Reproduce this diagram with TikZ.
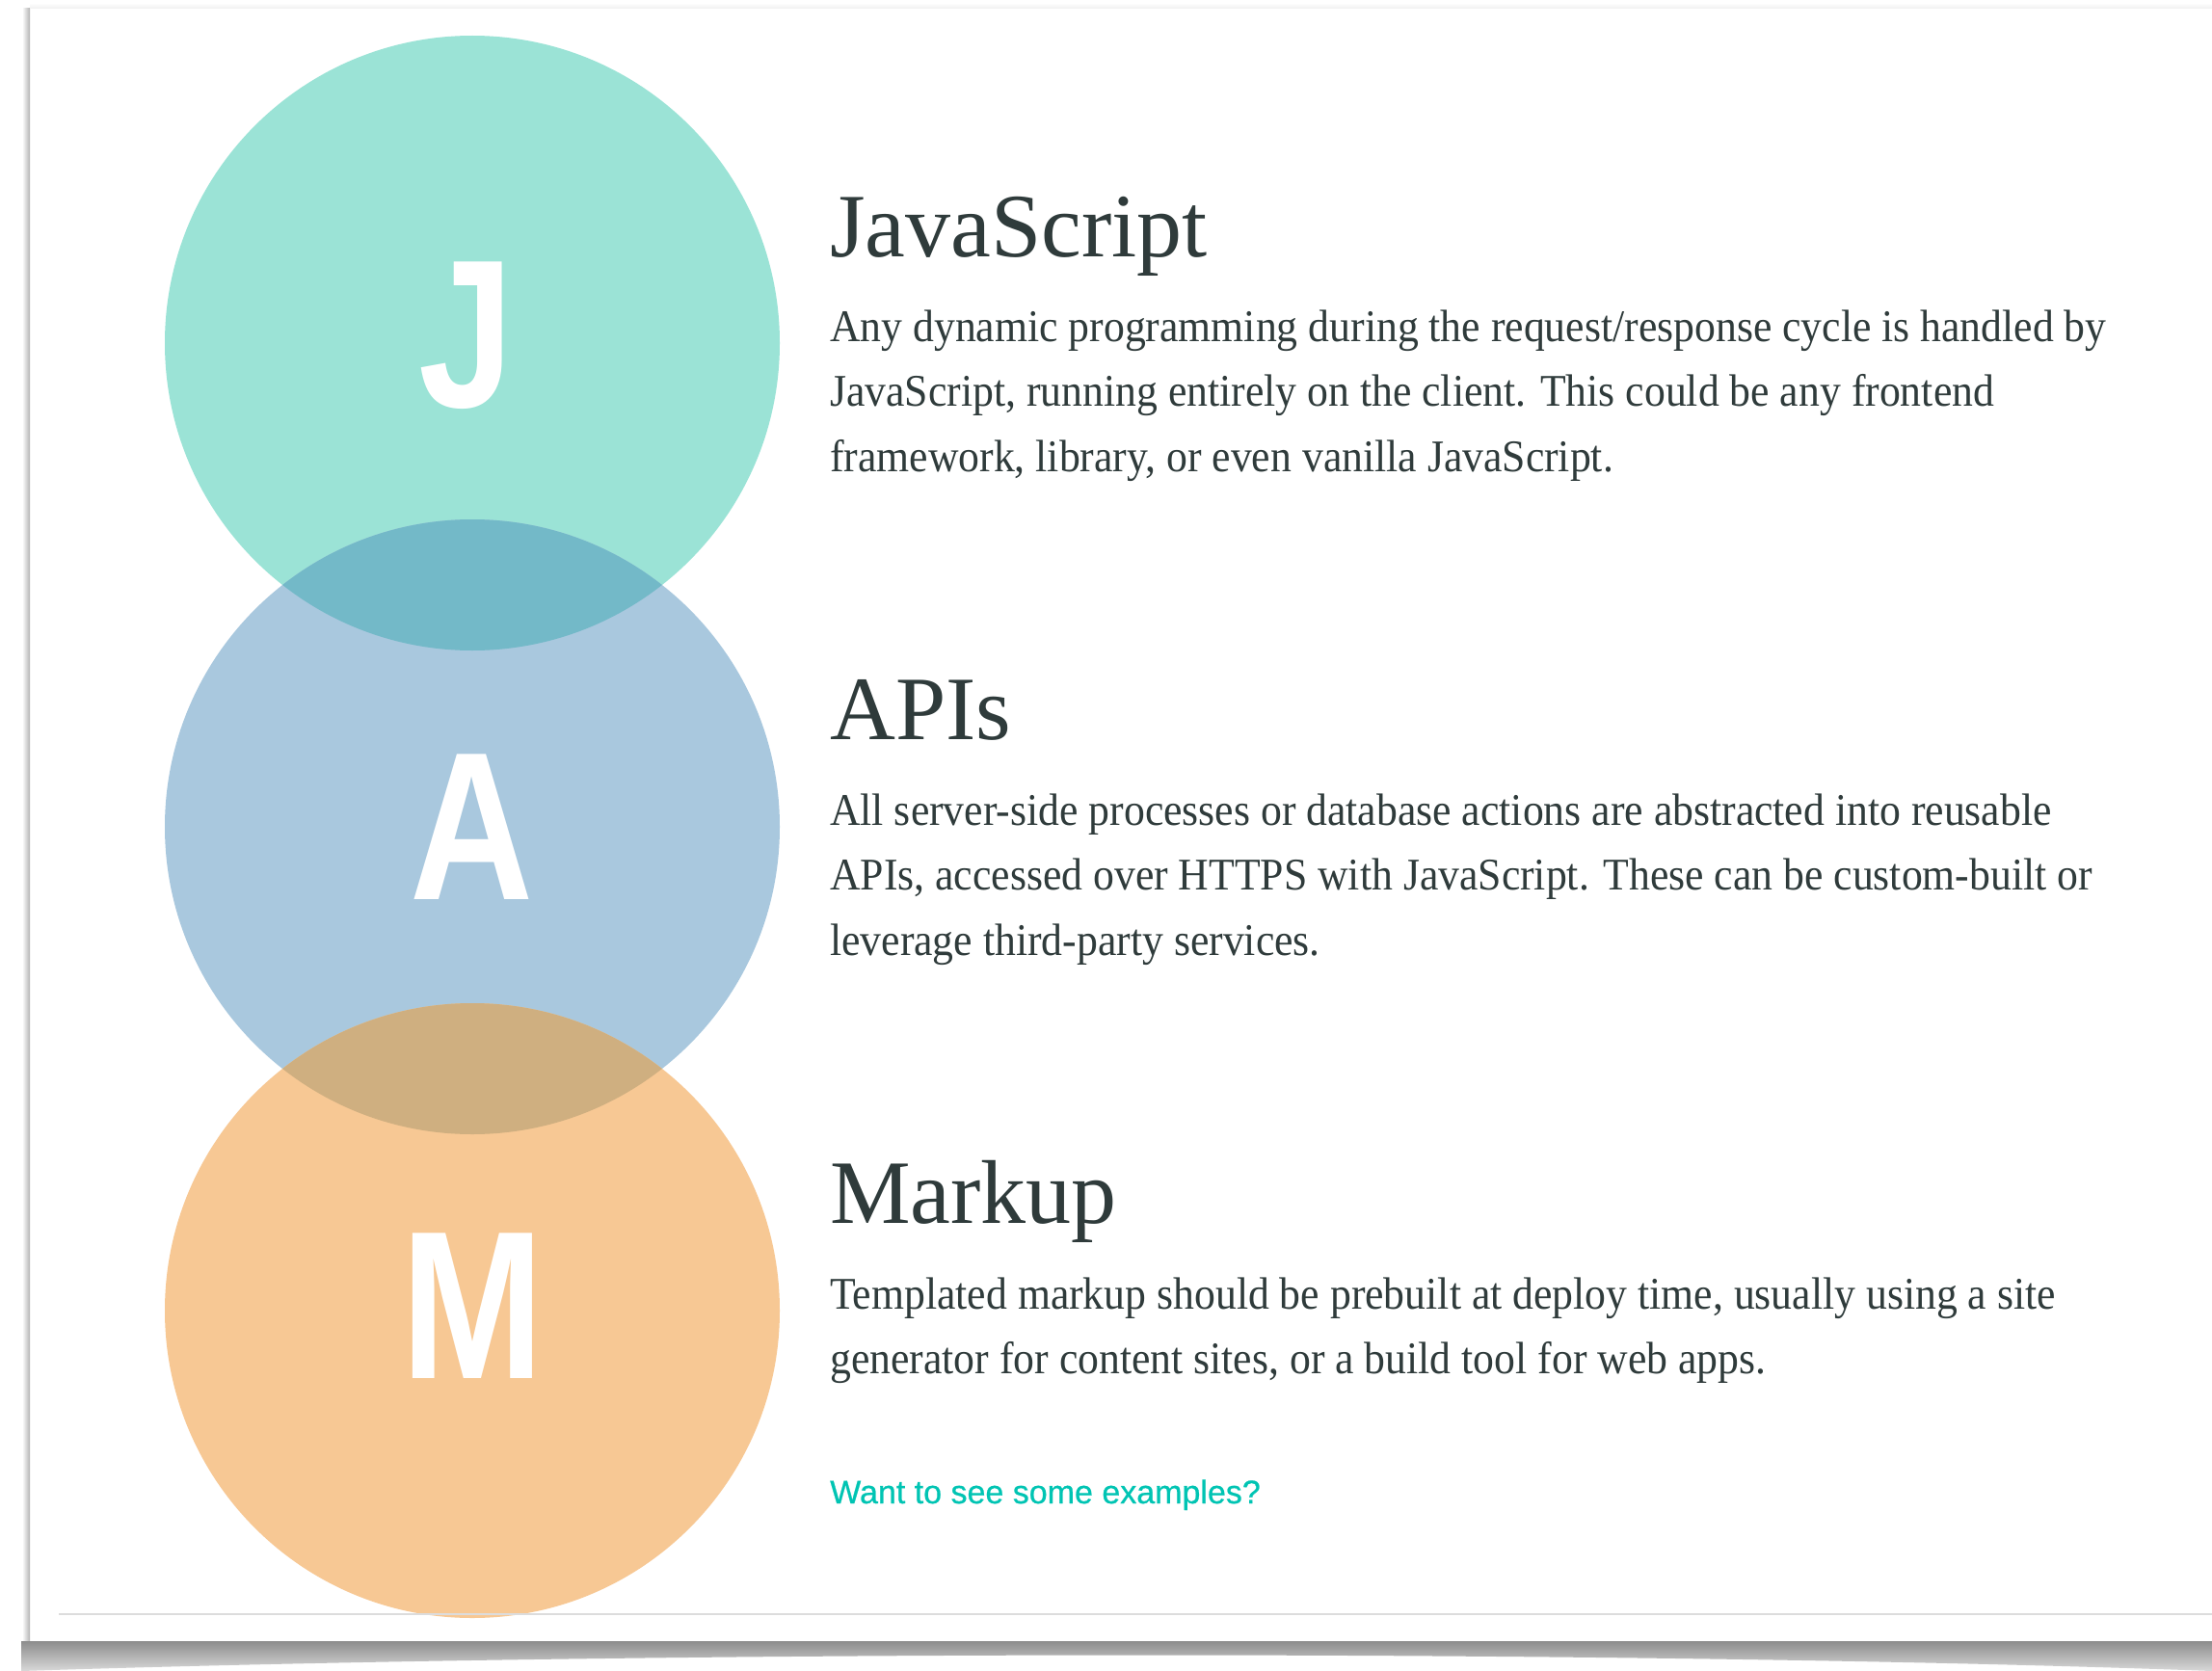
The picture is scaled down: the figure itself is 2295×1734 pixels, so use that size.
\documentclass[tikz,border=0pt]{standalone}
\usepackage{fontspec}
\usepackage{xcolor}
\setmainfont{Liberation Serif}
\newfontfamily\headfont{Liberation Serif}
\newfontfamily\bodyfont[FakeStretch=0.93]{Liberation Serif}
\newfontfamily\letterfont[FakeStretch=0.81]{Liberation Sans}
\newfontfamily\linkfont[FakeBold=0.6]{Liberation Sans}
\definecolor{jscol}{HTML}{9BE3D6}
\definecolor{apicol}{HTML}{A9C8DE}
\definecolor{mkcol}{HTML}{F7C894}
\definecolor{jsapi}{HTML}{73B9C8}
\definecolor{apimk}{HTML}{CFAF80}
\definecolor{inkcol}{HTML}{2F3B3B}
\definecolor{linkcol}{HTML}{00C4B3}
\definecolor{rulecol}{HTML}{DCDCDC}
\tikzset{
    letter-circle/.style = {circle, minimum size=638pt, inner sep=0pt},
    big-letter/.style = {text=white, font=\letterfont\bfseries\fontsize{219}{219}\selectfont, anchor=base, inner sep=0pt},
    heading/.style = {text=inkcol, font=\headfont\fontsize{94}{94}\selectfont, anchor=base west, inner sep=0pt},
    body-line/.style = {text=inkcol, font=\bodyfont\fontsize{47}{47}\selectfont, anchor=base west, inner sep=0pt},
    link/.style = {text=linkcol, font=\linkfont\fontsize{34}{34}\selectfont, anchor=base west, inner sep=0pt},
}
\begin{document}
\begin{tikzpicture}[x=1pt, y=-1pt]
\useasboundingbox (0,0) rectangle (2295,1734);
% page and its shadow
\fill[white] (0,0) rectangle (2295,1734);
\shade[left color=white, right color=black!30] (23,9) rectangle (31,1703);
\shade[top color=white, bottom color=black!6] (31,3) rectangle (2295,9);
\shade[top color=black!45, bottom color=black!15] (22,1703) -- (2295,1703) -- (2295,1734)
    .. controls (1700,1712) and (700,1712) .. (22,1734) -- cycle;

% the three circles
\node[letter-circle, fill=jscol] (jcirc) at (490,356) {};
\node[letter-circle, fill=apicol] (acirc) at (490,858) {};
\node[letter-circle, fill=mkcol] (mcirc) at (490,1360) {};
\begin{scope}
    \clip (jcirc.center) circle (319);
    \fill[jsapi] (acirc.center) circle (319);
\end{scope}
\begin{scope}
    \clip (acirc.center) circle (319);
    \fill[apimk] (mcirc.center) circle (319);
\end{scope}
\node[big-letter] (jlet) at (484,422) {J};
\node[big-letter] (alet) at (490,933) {A};
\node[big-letter] (mlet) at (490,1430) {M};

\draw[rulecol, line width=2pt] (61,1675) -- (2295,1675);

% JavaScript
\node[heading] (jshead) at (861,266) {JavaScript};
\node[body-line] (js1) at (861,354) {Any dynamic programming during the request/response cycle is handled by};
\node[body-line] (js2) at (861,421.5) {JavaScript, running entirely on the client. This could be any frontend};
\node[body-line] (js3) at (861,489) {framework, library, or even vanilla JavaScript.};

% APIs
\node[heading] (apihead) at (861,767) {APIs};
\node[body-line] (api1) at (861,856) {All server-side processes or database actions are abstracted into reusable};
\node[body-line] (api2) at (861,923.5) {APIs, accessed over HTTPS with JavaScript. These can be custom-built or};
\node[body-line] (api3) at (861,991) {leverage third-party services.};

% Markup
\node[heading] (mkhead) at (861,1269) {Markup};
\node[body-line] (mk1) at (861,1358) {Templated markup should be prebuilt at deploy time, usually using a site};
\node[body-line] (mk2) at (861,1425.5) {generator for content sites, or a build tool for web apps.};

\node[link] (examples) at (861,1560) {Want to see some examples?};
\end{tikzpicture}
\end{document}
